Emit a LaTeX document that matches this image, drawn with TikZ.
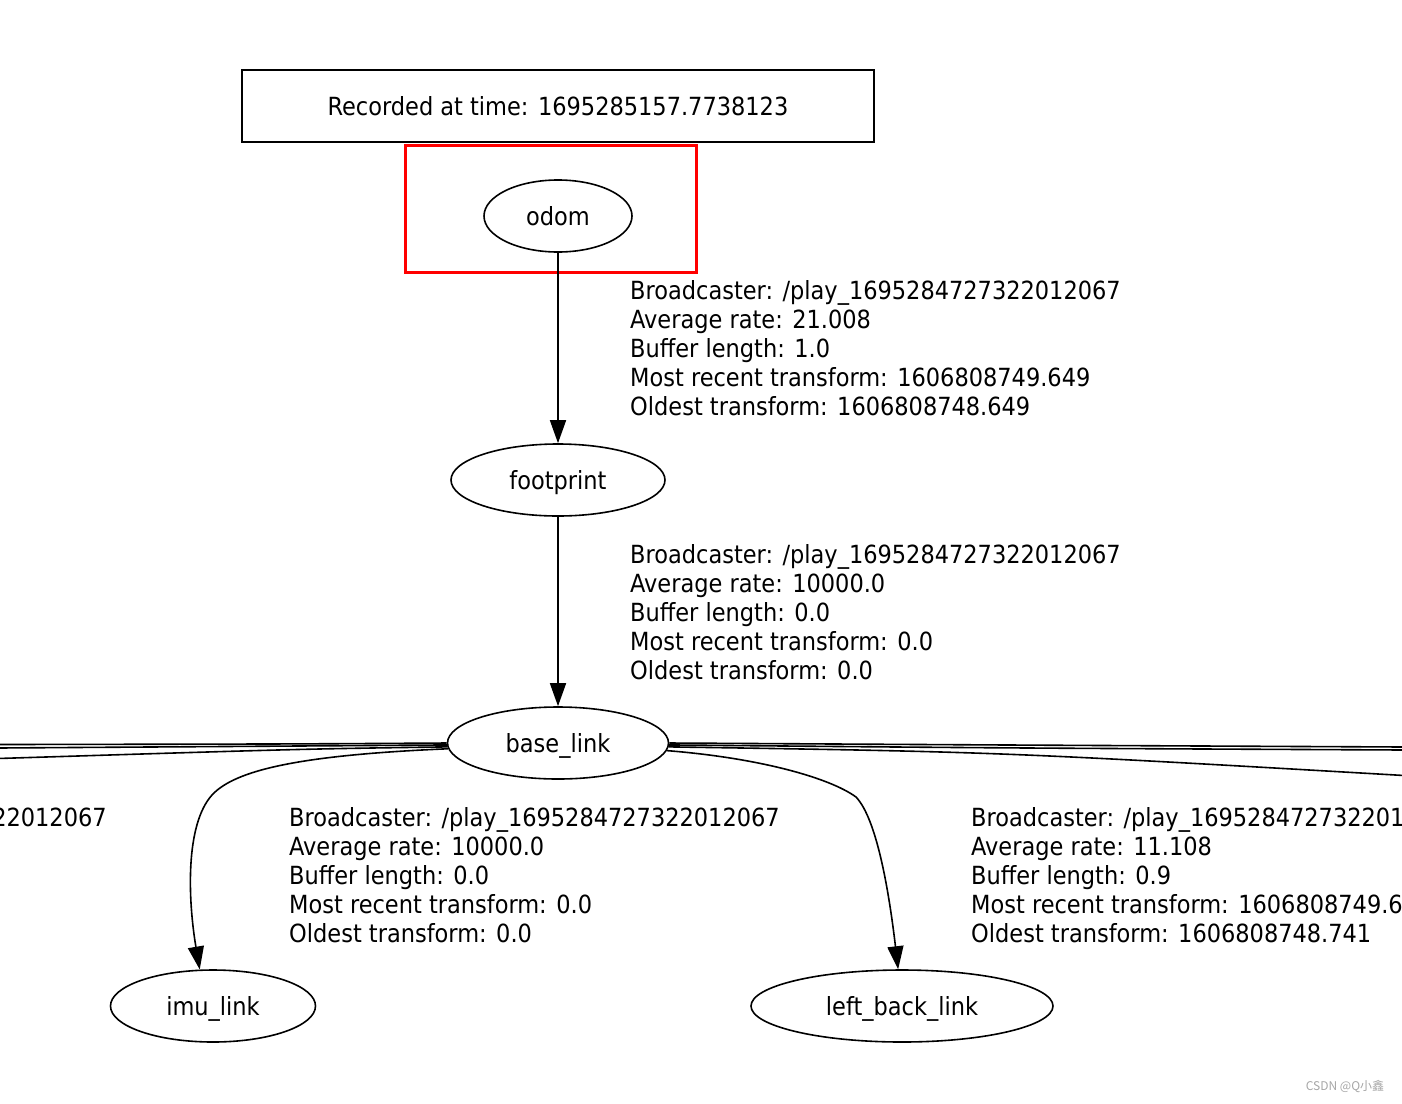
\documentclass[tikz,border=0pt]{standalone}
\usepackage{fontspec}
\setmainfont{DejaVu Sans Condensed}
\newfontfamily\cjk{Noto Sans CJK SC}
\usetikzlibrary{arrows.meta,shapes.geometric}

\begin{document}
\begin{tikzpicture}[x=1pt,y=-1pt,
  frame/.style={ellipse,draw,line width=1.6pt,inner sep=0pt,minimum height=72pt,text height=19pt,text depth=1pt,font=\fontsize{25}{29}\selectfont},
  info/.style={anchor=north west,inner sep=0pt,align=left,font=\fontsize{25}{29}\selectfont},
  tf/.style={line width=1.6pt,-{Triangle[length=23pt,width=16pt]}},
  link/.style={line width=1.6pt}]
\useasboundingbox (0,0) rectangle (1402,1103);
\clip (0,0) rectangle (1402,1103);

	\node (rec) [draw,line width=1.6pt,minimum width=632pt,minimum height=72pt,font=\fontsize{25}{29}\selectfont] at (558,106) {Recorded at time: 1695285157.7738123};
	\draw[red,line width=3pt] (405,145) rectangle (696,272);

	\node (odom) [frame,minimum width=148pt] at (558,216) {odom};
	\node (footprint) [frame,minimum width=214pt] at (558,480) {footprint};
	\node (base) [frame,minimum width=221pt] at (558,743) {base\_link};
	\node (imu) [frame,minimum width=205pt] at (213,1006) {imu\_link};
	\node (leftback) [frame,minimum width=302pt] at (902,1006) {left\_back\_link};

	\node (i1) [info] at (630,280) {Broadcaster: /play\_1695284727322012067\\Average rate: 21.008\\Buffer length: 1.0\\Most recent transform: 1606808749.649\\Oldest transform: 1606808748.649};
	\node (i2) [info] at (630,544) {Broadcaster: /play\_1695284727322012067\\Average rate: 10000.0\\Buffer length: 0.0\\Most recent transform: 0.0\\Oldest transform: 0.0};
	\node (i0) [anchor=base east,inner sep=0pt,font=\fontsize{25}{29}\selectfont] at (107,826) {Broadcaster: /play\_1695284727322012067};
	\node (i3) [info] at (289,807) {Broadcaster: /play\_1695284727322012067\\Average rate: 10000.0\\Buffer length: 0.0\\Most recent transform: 0.0\\Oldest transform: 0.0};
	\node (i4) [info] at (971,807) {Broadcaster: /play\_1695284727322012067\\Average rate: 11.108\\Buffer length: 0.9\\Most recent transform: 1606808749.6\\Oldest transform: 1606808748.741};

	\coordinate (w1) at (-2,744.5);
	\coordinate (w2) at (-2,748);
	\coordinate (w3) at (-2,758.5);
	\coordinate (e1) at (1404,747);
	\coordinate (e2) at (1404,750);
	\coordinate (e3) at (1404,775.5);

  \path (odom) edge[tf] (footprint);
  \path (footprint) edge[tf] (base);
  \draw[link] (base.180) .. controls (300,744) .. (w1);
  \draw[link] (base.181) .. controls (300,746) .. (w2);
  \draw[link] (base.182) .. controls (300,749) .. (w3);
  \draw[link] (base.0) .. controls (1000,745) .. (e1);
  \draw[link] (base.-1) .. controls (1000,748) .. (e2);
  \draw[link] (base.-2) .. controls (1000,752) .. (e3);
  \draw[tf] (base.183) .. controls (300,755) and (235,770) .. (212,795) .. controls (185,825) and (188,900) .. (imu.110);
  \draw[tf] (base.-4) .. controls (760,758) and (830,778) .. (856,797) .. controls (878,820) and (890,900) .. (leftback.96);

	\node (mark) [text=gray!70,font=\cjk\fontsize{12}{14}\selectfont] at (1345,1086) {CSDN @Q小鑫};
\end{tikzpicture}
\end{document}
